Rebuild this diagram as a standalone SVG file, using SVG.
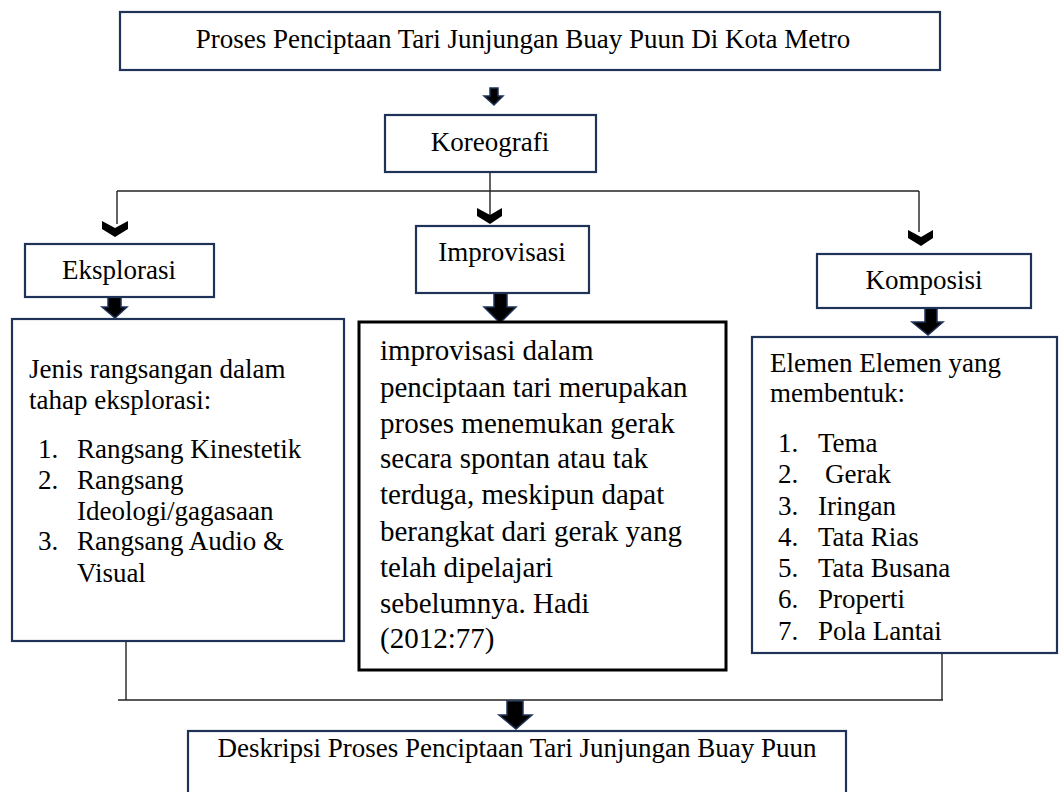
<svg xmlns="http://www.w3.org/2000/svg" width="1059" height="792" viewBox="0 0 1059 792">
<style>
.box{fill:#fff;stroke:#1f3358;stroke-width:2.2}
.bbox{fill:#fff;stroke:#000;stroke-width:3}
.t{font-family:"Liberation Serif","Times New Roman",serif;font-size:27px;fill:#000}
.tm{font-family:"Liberation Serif","Times New Roman",serif;font-size:29px;fill:#000}
.c{text-anchor:middle}
.ln{fill:none;stroke:#222;stroke-width:1.4}
.blk{fill:#000;stroke:#1f3358;stroke-width:1.5;stroke-linejoin:miter}
.chev{fill:#000}
</style>
<g id="connectors">
  <path class="ln" d="M490,173 V216"/>
  <path class="ln" d="M117,191 H919"/>
  <path class="ln" d="M117,191 V224"/>
  <path class="ln" d="M919,191 V232"/>
  <path class="ln" d="M126,641 V700"/>
  <path class="ln" d="M942,653 V700"/>
  <path class="ln" d="M118,700 H943"/>
  <path class="blk" d="M490,88 H498 V96 H503 L494,105 L484,96 H490 Z"/>
  <path class="blk" d="M108,297 H121 V307 H127 L115,318 L102,307 H108 Z"/>
  <path class="blk" d="M494,287 H507 V307 H516 L500,323 L484,307 H494 Z"/>
  <path class="blk" d="M925,308 H937 V322 H943 L928,335 L912,322 H925 Z"/>
  <path class="blk" d="M507,701 H523 V715 H532 L516,729 L499,715 H507 Z"/>
  <path class="chev" d="M102,221 L115,228 L128,221 V229 L115,237 L102,229 Z"/>
  <path class="chev" d="M477,208 L490,215 L502,208 V216 L490,224 L477,216 Z"/>
  <path class="chev" d="M908,230 L921,237 L933,230 V238 L921,246 L908,238 Z"/>
</g>
<g id="title">
  <rect class="box" x="120" y="12" width="820" height="58"/>
  <text class="t c" x="523" y="48">Proses Penciptaan Tari Junjungan Buay Puun Di Kota Metro</text>
</g>
<g id="koreografi">
  <rect class="box" x="385" y="115" width="211" height="57"/>
  <text class="t c" x="490" y="151">Koreografi</text>
</g>
<g id="eksplorasi">
  <rect class="box" x="25" y="244" width="189" height="53"/>
  <text class="t c" x="119" y="279">Eksplorasi</text>
</g>
<g id="improvisasi">
  <rect class="box" x="416" y="226" width="173" height="67"/>
  <text class="t c" x="502" y="261">Improvisasi</text>
</g>
<g id="komposisi">
  <rect class="box" x="817" y="254" width="214" height="54"/>
  <text class="t c" x="924" y="289">Komposisi</text>
</g>
<g id="eksplorasi-detail">
  <rect class="box" x="12" y="319" width="332" height="322"/>
  <text class="t" x="29" y="378">Jenis rangsangan dalam</text>
  <text class="t" x="29" y="409">tahap eksplorasi:</text>
  <text class="t" x="38" y="458">1.</text><text class="t" x="77" y="458">Rangsang Kinestetik</text>
  <text class="t" x="38" y="489">2.</text><text class="t" x="77" y="489">Rangsang</text>
  <text class="t" x="77" y="520">Ideologi/gagasaan</text>
  <text class="t" x="38" y="550">3.</text><text class="t" x="77" y="550">Rangsang Audio &amp;</text>
  <text class="t" x="77" y="582">Visual</text>
</g>
<g id="improvisasi-detail">
  <rect class="bbox" x="359" y="322" width="367" height="348"/>
  <text class="tm" x="380" y="360">improvisasi dalam</text>
  <text class="tm" x="380" y="397">penciptaan tari merupakan</text>
  <text class="tm" x="380" y="433">proses menemukan gerak</text>
  <text class="tm" x="380" y="468">secara spontan atau tak</text>
  <text class="tm" x="380" y="504">terduga, meskipun dapat</text>
  <text class="tm" x="380" y="541">berangkat dari gerak yang</text>
  <text class="tm" x="380" y="577">telah dipelajari</text>
  <text class="tm" x="380" y="613">sebelumnya. Hadi</text>
  <text class="tm" x="380" y="648">(2012:77)</text>
</g>
<g id="komposisi-detail">
  <rect class="box" x="752" y="337" width="305" height="316"/>
  <text class="t" x="770" y="372">Elemen Elemen yang</text>
  <text class="t" x="770" y="402">membentuk:</text>
  <text class="t" x="778" y="452">1.</text><text class="t" x="818" y="452">Tema</text>
  <text class="t" x="778" y="483">2.</text><text class="t" x="825" y="483">Gerak</text>
  <text class="t" x="778" y="515">3.</text><text class="t" x="818" y="515">Iringan</text>
  <text class="t" x="778" y="546">4.</text><text class="t" x="818" y="546">Tata Rias</text>
  <text class="t" x="778" y="577">5.</text><text class="t" x="818" y="577">Tata Busana</text>
  <text class="t" x="778" y="608">6.</text><text class="t" x="818" y="608">Properti</text>
  <text class="t" x="778" y="640">7.</text><text class="t" x="818" y="640">Pola Lantai</text>
</g>
<g id="deskripsi">
  <rect class="box" x="188" y="731" width="658" height="80"/>
  <text class="t c" x="517" y="757">Deskripsi Proses Penciptaan Tari Junjungan Buay Puun</text>
</g>
</svg>
